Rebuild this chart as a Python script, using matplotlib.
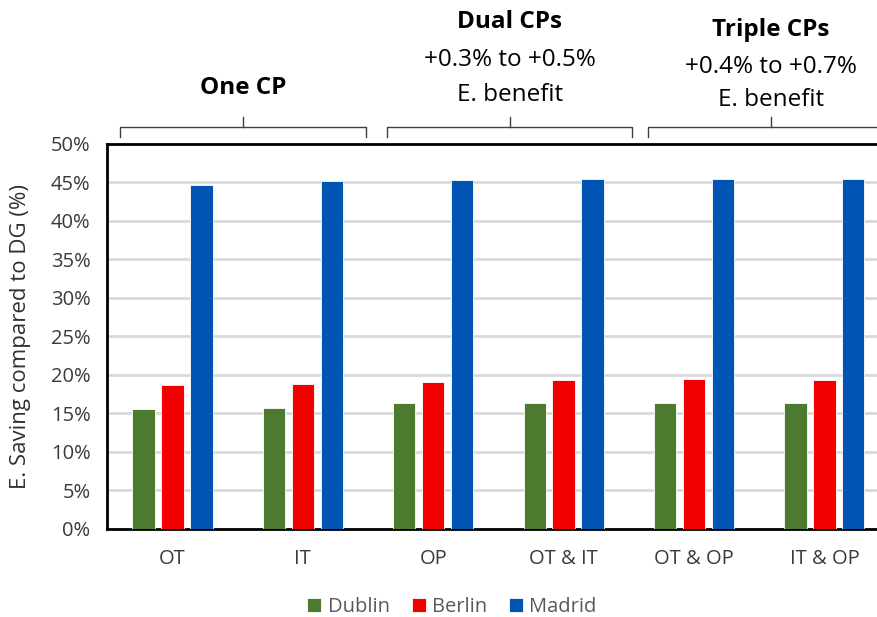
import numpy as np
import matplotlib.pyplot as plt
from matplotlib.lines import Line2D

plt.rcParams['font.family'] = ['Open Sans', 'DejaVu Sans']

cases = ["OT", "IT", "OP", "OT & IT", "OT & OP", "IT & OP"]
dublin = [15.5, 15.6, 16.3, 16.3, 16.3, 16.3]
berlin = [18.6, 18.8, 19.1, 19.3, 19.4, 19.3]
madrid = [44.7, 45.1, 45.3, 45.4, 45.4, 45.4]

cities = ["Dublin", "Berlin", "Madrid"]
colors = ["#4C7A2F", "#F20000", "#0054B4"]

fig = plt.figure(figsize=(8.78, 6.17), dpi=100)
# axes run past the right border of the figure
ax = fig.add_axes([0.1222, 0.1434, 0.891, 0.6236])

x = np.arange(len(cases))
w = 0.171
step = 0.222
for i, (vals, c, name) in enumerate(zip([dublin, berlin, madrid], colors, cities)):
    ax.bar(x + (i - 1) * step, vals, width=w, color=c, label=name,
           edgecolor="white", linewidth=0.6, zorder=3)

ax.set_xlim(-0.5, len(cases) - 0.5)
ax.set_ylim(0, 50)
ax.set_yticks(np.arange(0, 51, 5))
ax.set_yticklabels([f"{v}%" for v in range(0, 51, 5)])
ax.set_xticks(x)
ax.set_xticklabels(cases)
ax.tick_params(axis="both", length=0, labelsize=14.5, labelcolor="#3A3A3A")
ax.tick_params(axis="y", pad=12)
ax.tick_params(axis="x", pad=15)
ax.yaxis.grid(True, color="#D9D9D9", linewidth=2, zorder=0)
ax.set_axisbelow(True)
for s in ax.spines.values():
    s.set_color("black")
    s.set_linewidth(2)
ax.set_ylabel("E. Saving compared to DG (%)", fontsize=16, color="#303030")
ax.yaxis.set_label_coords(-0.098, 0.5)

ax.legend(loc="center", bbox_to_anchor=(452 / 878, 1 - 607 / 617),
          bbox_transform=fig.transFigure, ncol=3, frameon=False,
          fontsize=14.5, handlelength=0.7, handleheight=0.7,
          handletextpad=0.3, columnspacing=1.1, labelcolor="#595959")

# group braces above the plot (figure pixel coords)
def brace(x0, x1, xm):
    H, W = 617.0, 878.0
    kw = dict(color="#404040", linewidth=1.0, transform=fig.transFigure)
    ys, yl, yt = 137, 127, 117
    fig.add_artist(Line2D([x0 / W, x0 / W, x1 / W, x1 / W],
                          [1 - ys / H, 1 - yl / H, 1 - yl / H, 1 - ys / H], **kw))
    fig.add_artist(Line2D([xm / W, xm / W], [1 - yl / H, 1 - yt / H], **kw))

brace(120, 366, 243)
brace(387, 632, 510)
brace(648, 900, 771)

def ftext(px, py, s, **kw):
    fig.text(px / 878, 1 - py / 617, s, ha="center", va="center",
             color="black", **kw)

ftext(243, 88, "One CP", fontsize=17.5, fontweight="bold")
ftext(510, 22, "Dual CPs", fontsize=17.5, fontweight="bold")
ftext(510, 60, "+0.3% to +0.5%", fontsize=17.5)
ftext(510, 95, "E. benefit", fontsize=17.5)
ftext(771, 30, "Triple CPs", fontsize=17.5, fontweight="bold")
ftext(771, 67, "+0.4% to +0.7%", fontsize=17.5)
ftext(771, 100, "E. benefit", fontsize=17.5)

fig.savefig("out.png", dpi=100)
